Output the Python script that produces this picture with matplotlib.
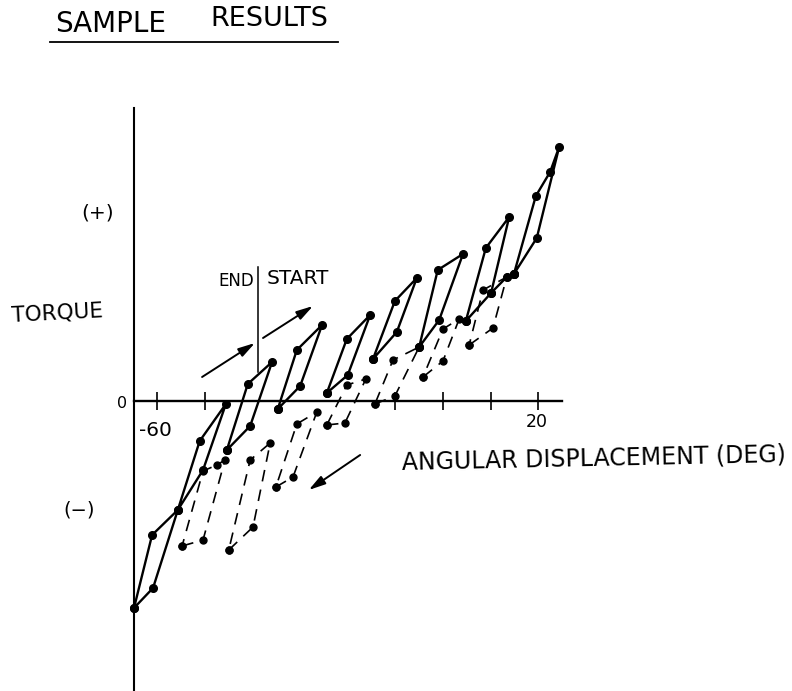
import matplotlib
import matplotlib.pyplot as plt

matplotlib.use("Agg")

plt.rcParams["font.family"] = ["DejaVu Sans"]

# torque loops, angular displacement in degrees, torque in arbitrary units
# solid = loading direction, dashed = return direction
solid_x = [
    [-64.9, -60.9, -55.7, -51.1, -45.6, -50.4, -55.7, -61.1, -64.9],
    [-45.4, -41.0, -35.9, -40.5, -45.4],
    [-34.7, -30.7, -25.4, -30.0, -34.7],
    [-24.4, -20.2, -15.3, -20.0, -24.4],
    [-14.7, -10.1, -5.5, -9.7, -14.7],
    [-5.0, -1.1, 4.2, -0.8, -5.0],
    [4.8, 9.0, 13.9, 10.1, 4.8],
    [10.1, 13.4, 14.9],
    [14.9, 19.5, 22.5, 24.4, 19.7, 14.9],
]
solid_y = [
    [-10.35, -9.35, -5.45, -2.0, -0.15, -3.45, -5.45, -6.7, -10.35],
    [-2.45, 0.85, 1.95, -1.25, -2.45],
    [-0.4, 2.55, 3.8, 0.75, -0.4],
    [0.4, 3.1, 4.3, 1.3, 0.4],
    [2.1, 5.0, 6.15, 3.45, 2.1],
    [2.7, 6.55, 7.35, 4.05, 2.7],
    [4.0, 7.65, 9.2, 5.4, 4.0],
    [5.4, 6.2, 6.35],
    [6.35, 10.25, 11.45, 12.7, 8.15, 6.35],
]
dashed_x = [
    [-54.8, -50.4, -45.8, -47.5, -50.4, -54.8],
    [-45.0, -39.9, -36.3, -40.5, -45.0],
    [-35.1, -31.5, -26.5, -30.7, -35.1],
    [-24.4, -20.6, -16.2, -20.2, -24.4],
    [-14.3, -10.1, -5.0, -10.5, -14.3],
    [-4.2, 0.0, 3.4, 0.0, -4.2],
    [5.5, 10.5, 13.4, 8.4, 5.5],
]
dashed_y = [
    [-7.25, -6.95, -2.95, -3.2, -3.5, -7.25],
    [-7.45, -6.3, -2.1, -2.95, -7.45],
    [-4.3, -3.8, -0.55, -1.15, -4.3],
    [-1.2, -1.1, 1.1, 0.8, -1.2],
    [-0.15, 0.25, 2.7, 2.05, -0.15],
    [1.2, 2.0, 4.1, 3.6, 1.2],
    [2.8, 3.65, 6.2, 5.55, 2.8],
]
x_ticks = [-60, -50, -10, 0, 10, 20]

fig = plt.figure(figsize=(7.92, 6.91), dpi=100)
ax = fig.add_axes([134 / 792, 0, (562 - 134) / 792, (691 - 108) / 691])
ax.set_xlim(-64.9, 25)
ax.set_ylim(-14.5, 14.65)
ax.patch.set_alpha(0)

for s in ["top", "right"]:
    ax.spines[s].set_visible(False)
ax.spines["bottom"].set_position(("data", 0))
ax.spines["bottom"].set_linewidth(1.7)
ax.spines["left"].set_linewidth(1.5)
ax.set_yticks([])
ax.set_xticks(x_ticks, [""] * len(x_ticks))
ax.tick_params(axis="x", direction="inout", length=13, width=1.2)

for xs, ys in zip(solid_x, solid_y):
    ax.plot(xs, ys, color="black", lw=1.7, marker="o", ms=5.5, clip_on=False)
for xs, ys in zip(dashed_x, dashed_y):
    ax.plot(xs, ys, color="black", lw=1.2, ls=(0, (7, 5)), marker="o", ms=5, clip_on=False)

# direction arrows
arrow = dict(arrowstyle="-|>,head_length=1.0,head_width=0.28", color="black", lw=1.4, shrinkA=0, shrinkB=0)
ax.annotate("", xy=(-39.5, 2.9), xytext=(-50.6, 1.2), arrowprops=arrow)
ax.annotate("", xy=(-27.3, 4.75), xytext=(-37.8, 3.15), arrowprops=arrow)
ax.annotate("", xy=(-28.2, -4.45), xytext=(-17.4, -2.7), arrowprops=arrow)

# end / start marker
ax.plot([-38.9, -38.9], [1.45, 6.7], color="black", lw=1.1)
ax.text(-39.7, 6.0, "END", ha="right", va="center", fontsize=12)
ax.text(-37.0, 6.1, "START", ha="left", va="center", fontsize=14.5)

ax.text(-67.5, -0.1, "0", ha="center", va="center", fontsize=11.5)
ax.text(-60.5, -1.45, "-60", ha="center", va="center", fontsize=14.5)
ax.text(19.7, -1.05, "20", ha="center", va="center", fontsize=12.5)
ax.text(-72.5, 9.4, "(+)", ha="center", va="center", fontsize=14.5)
ax.text(-76.5, -5.45, "(−)", ha="center", va="center", fontsize=14)
ax.text(-81, 4.4, "TORQUE", ha="center", va="center", fontsize=15.5, rotation=3)
ax.text(-8.7, -2.85, "ANGULAR DISPLACEMENT (DEG)", ha="left", va="center",
        fontsize=17, rotation=1.2)

fig.text(55 / 792, 1 - 24 / 691, "SAMPLE", ha="left", va="center", fontsize=20)
fig.text(210 / 792, 1 - 19 / 691, "RESULTS", ha="left", va="center", fontsize=19.5)
fig.add_artist(plt.Line2D([50 / 792, 338 / 792], [1 - 42 / 691] * 2, color="black", lw=1.3))

plt.savefig("out.png", dpi=100)
